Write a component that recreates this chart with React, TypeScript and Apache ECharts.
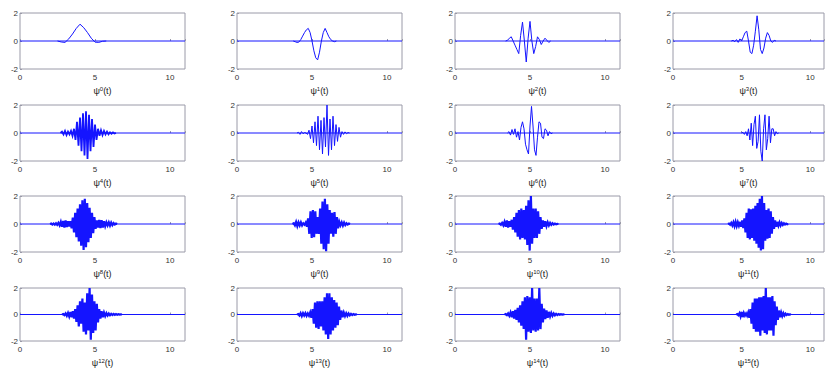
import React, { useEffect, useRef } from "react";
import * as echarts from "echarts";

// Axis ranges / ticks
const X_MIN = 0;
const X_MAX = 11;
const X_INTERVAL = 5;
const Y_MIN = -2;
const Y_MAX = 2;
const Y_INTERVAL = 2;

// Sample start time and spacing of each ψ^n curve (outside these the function is 0)
const STARTS = [2.5, 3.75, 3.375, 4.25, 2.7, 4.0, 3.5, 5.0, 2.0, 3.7, 2.9, 4.0, 2.8, 4.0, 3.3, 4.6];
const STEPS = [0.25, 0.125, 0.125, 0.125, 0.1, 0.1, 0.1, 0.1, 0.08, 0.08, 0.08, 0.08, 0.08, 0.08, 0.08, 0.08];
// Stroke width: fast oscillations are drawn as solid blobs in the original
const WIDTHS = [1, 1, 1, 1, 1.8, 1, 1, 1, 2.2, 2.2, 2.2, 2.2, 2.2, 2.2, 2.2, 2.2];

const PSI0 = [0, -0.07, -0.1, 0.15, 0.5, 0.9, 1.2, 0.95, 0.6, 0.2, -0.08, -0.1, -0.02, 0];
const PSI1 = [0, -0.05, -0.1, -0.08, 0.1, 0.35, 0.6, 0.8, 0.9, 0.6, 0.0, -0.7, -1.2, -1.35, -0.8, 0.0, 0.6, 0.9, 0.6, 0.3, 0.1, 0.0, -0.05, 0];
const PSI2 = [0, 0.05, 0.2, 0.3, 0.0, -0.3, -0.6, -0.9, 0.4, 1.35, 0.0, -1.5, 0.2, 1.4, 0.0, -0.9, -0.4, 0.3, 0.1, -0.25, 0.0, 0.2, 0.05, -0.1, 0];
const PSI3 = [0, 0.05, -0.05, 0.1, -0.1, 0.15, 0.0, 0.3, 0.6, 0.7, 0.0, -0.8, -0.9, -0.3, 0.7, 1.8, 0.8, -0.6, -0.9, -0.5, 0.2, 0.6, 0.4, 0.0, -0.1, 0.05, 0];
const PSI4 = [0, 0.1, -0.1, 0.15, -0.15, 0.1, -0.1, 0.15, -0.2, 0.3, -0.5, 0.8, -0.9, 1.1, -1.3, 1.4, -1.6, 1.55, -1.85, 1.3, -1.3, 1.0, -1.0, 0.6, -0.5, 0.3, -0.2, 0.2, -0.15, 0.15, -0.1, 0.1, -0.1, 0.05, -0.05, 0.05, -0.03, 0];
const PSI5 = [0, 0.05, -0.1, 0.1, -0.05, 0.03, 0, -0.1, 0.2, -0.4, 0.5, -0.7, 0.8, -0.9, 1.2, -1.2, 0.9, -1.5, 1.1, -1.0, 2.0, -1.6, 1.0, -1.2, 1.2, -0.9, 0.6, -0.6, 0.4, -0.3, 0.1, -0.1, 0.08, -0.05, 0.03, 0];
const PSI6 = [0, 0.1, -0.15, 0.25, -0.1, 0.3, -0.3, 0.1, -0.5, 0.4, 0.8, 0.3, -0.8, -1.2, -1.5, 0.5, 1.9, 0.5, -1.2, -1.6, -0.3, 0.8, 0.7, -0.3, -0.4, 0.3, 0.2, -0.2, 0.1, -0.05, 0];
const PSI7 = [0, 0.05, -0.1, 0.1, -0.2, 0.3, -0.5, 0.7, -0.9, 0.6, 1.2, -1.1, -0.6, 1.3, -1.3, -2.0, 0.3, 1.3, -1.2, -0.4, 1.2, -0.7, 0.3, 0.3, -0.2, 0.1, -0.05, 0];
const PSI8 = [
  0, 0.03, -0.04, 0.04, -0.05, 0.05, -0.06, 0.08, -0.1, 0.15,
  -0.2, 0.22, -0.25, 0.25, -0.22, 0.2, -0.18, 0.2, -0.3, 0.45,
  -0.6, 0.8, -0.95, 1.1, -1.25, 1.4, -1.55, 1.7, -1.85, 1.8,
  -1.65, 1.5, -1.3, 1.15, -1.0, 0.8, -0.65, 0.5, -0.35, 0.25,
  -0.25, 0.3, -0.3, 0.28, -0.25, 0.2, -0.15, 0.12, -0.1, 0.12,
  -0.12, 0.1, -0.08, 0.06, -0.04, 0.03, 0,
];
const PSI9 = [
  0, 0.05, -0.1, 0.15, -0.15, 0.12, -0.1, 0.12, -0.1, 0.05,
  -0.05, 0.1, -0.2, 0.4, -0.7, 0.9, -1.0, 1.0, -0.95, 0.9,
  -0.7, 0.5, -0.7, 1.1, -1.4, 1.6, -1.8, 1.8, -1.95, 1.4,
  -1.4, 1.0, -0.7, 0.8, -0.9, 0.85, -0.7, 0.5, -0.3, 0.15,
  -0.1, 0.12, -0.12, 0.1, -0.08, 0.05, -0.04, 0.03, 0,
];
const PSI10 = [
  0, 0.03, -0.05, 0.08, -0.1, 0.15, -0.2, 0.25, -0.25, 0.2,
  -0.2, 0.3, -0.4, 0.5, -0.6, 0.8, -0.9, 1.0, -1.1, 1.1,
  -1.0, 1.0, -1.1, 1.3, -1.5, 1.7, -1.9, 2.0, -1.4, 1.1,
  -1.0, 1.1, -1.0, 0.9, -0.7, 0.5, -0.35, 0.25, -0.2, 0.2,
  -0.15, 0.12, -0.1, 0.08, -0.06, 0.05, -0.04, 0.03, -0.02, 0.01,
  0,
];
const PSI11 = [
  0, 0.03, -0.05, 0.08, -0.1, 0.12, -0.15, 0.15, -0.15, 0.12,
  -0.12, 0.15, -0.2, 0.25, -0.3, 0.4, -0.6, 0.8, -1.0, 1.1,
  -1.1, 1.05, -1.0, 1.1, -1.2, 1.3, -1.4, 1.5, -1.7, 1.8,
  -1.9, 2.0, -1.8, 1.5, -1.2, 1.0, -1.05, 1.1, -1.0, 0.9,
  -0.7, 0.5, -0.35, 0.25, -0.2, 0.15, -0.12, 0.12, -0.1, 0.08,
  -0.06, 0.05, -0.04, 0.03, -0.02, 0,
];
const PSI12 = [
  0, 0.03, -0.05, 0.08, -0.1, 0.12, -0.15, 0.18, -0.2, 0.25,
  -0.3, 0.4, -0.55, 0.7, -0.9, 1.0, -0.7, 1.2, -1.3, 0.9,
  -1.5, 1.6, -1.2, 2.0, -1.9, 1.5, -1.4, 1.0, -1.2, 0.8,
  -0.6, 0.4, -0.3, 0.25, -0.2, 0.15, -0.12, 0.1, -0.08, 0.07,
  -0.06, 0.05, -0.04, 0.04, -0.03, 0.03, -0.02, 0.02, -0.01, 0.01,
  0,
];
const PSI13 = [
  0, 0.03, -0.08, 0.1, -0.12, 0.1, -0.08, 0.1, -0.1, 0.08,
  -0.1, 0.15, -0.25, 0.4, -0.7, 0.9, -1.0, 1.0, -1.1, 1.0,
  -0.9, 1.0, -1.2, 1.3, -1.5, 1.6, -1.85, 1.6, -1.5, 1.3,
  -1.2, 1.1, -1.0, 0.9, -0.8, 0.6, -0.4, 0.3, -0.2, 0.15,
  -0.12, 0.1, -0.1, 0.08, -0.06, 0.05, -0.04, 0.03, -0.02, 0.01,
  0,
];
const PSI14 = [
  0, 0.03, -0.05, 0.08, -0.1, 0.15, -0.2, 0.25, -0.3, 0.35,
  -0.4, 0.5, -0.6, 0.7, -0.85, 1.0, -1.1, 1.3, -1.9, 1.4,
  -1.3, 1.3, -1.4, 2.0, -1.2, 1.2, -1.3, 1.2, -1.2, 2.0,
  -1.1, 0.8, -0.6, 0.45, -0.35, 0.3, -0.25, 0.2, -0.15, 0.12,
  -0.1, 0.08, -0.06, 0.05, -0.04, 0.03, -0.02, 0.02, -0.01, 0.01,
  0,
];
const PSI15 = [
  0, 0.03, -0.05, 0.1, -0.15, 0.2, -0.2, 0.12, -0.08, 0.08,
  -0.1, 0.15, -0.25, 0.4, -0.7, 0.9, -1.1, 1.2, -1.3, 1.2,
  -1.3, 1.3, -1.6, 1.3, -1.2, 1.4, -1.4, 2.0, -1.5, 1.3,
  -1.2, 1.3, -1.2, 1.4, -1.6, 1.0, -0.8, 0.6, -0.4, 0.3,
  -0.2, 0.15, -0.12, 0.1, -0.08, 0.06, -0.04, 0.03, -0.02, 0.01,
  0,
];

const PSI = [PSI0, PSI1, PSI2, PSI3, PSI4, PSI5, PSI6, PSI7, PSI8, PSI9, PSI10, PSI11, PSI12, PSI13, PSI14, PSI15];

const FONT = "Liberation Sans";
const LINE = "#1414ff";

export default function App() {
  const ref = useRef<HTMLDivElement>(null);

  useEffect(() => {
    const chart = echarts.init(ref.current!, null, { renderer: "svg" });
    const colLeft = [20, 237, 455, 673];
    const rowTop = [13, 105, 196, 288];
    const W = 165;
    const H = 56;

    const grid: any[] = [];
    const xAxis: any[] = [];
    const yAxis: any[] = [];
    const series: any[] = [];

    PSI.forEach((vals, n) => {
      const r = Math.floor(n / 4);
      const c = n % 4;
      grid.push({
        left: colLeft[c],
        top: rowTop[r],
        width: W,
        height: H,
        show: true,
        borderColor: "#9a9aa8",
        borderWidth: 1,
        backgroundColor: "#ffffff",
      });
      xAxis.push({
        type: "value",
        gridIndex: n,
        min: X_MIN,
        max: X_MAX,
        interval: X_INTERVAL,
        axisLine: { show: false },
        axisTick: { show: true, inside: true, length: 2, lineStyle: { color: "#9a9aa8" } },
        splitLine: { show: false },
        axisLabel: {
          fontSize: 8,
          color: "#333",
          fontFamily: FONT,
          margin: 4,
          formatter: (v: number) => (v % X_INTERVAL === 0 ? String(v) : ""),
        },
        name: `ψ{s|${n}}(t)`,
        nameLocation: "middle",
        nameGap: 17,
        nameTextStyle: {
          fontSize: 9,
          color: "#222",
          fontFamily: FONT,
          rich: {
            s: { fontSize: 6, color: "#222", fontFamily: FONT, verticalAlign: "top" },
          },
        },
      });
      yAxis.push({
        type: "value",
        gridIndex: n,
        min: Y_MIN,
        max: Y_MAX,
        interval: Y_INTERVAL,
        axisLine: { show: false },
        axisTick: { show: true, inside: true, length: 2, lineStyle: { color: "#9a9aa8" } },
        splitLine: { show: false },
        axisLabel: { fontSize: 8, color: "#333", fontFamily: FONT, margin: 2 },
      });
      const start = STARTS[n];
      const step = STEPS[n];
      const pts: number[][] = [];
      vals.forEach((v, i) => pts.push([+(start + i * step).toFixed(4), v]));
      // zero baseline (function vanishes outside its support)
      series.push({
        type: "line",
        xAxisIndex: n,
        yAxisIndex: n,
        data: [[X_MIN, 0], [X_MAX, 0]],
        showSymbol: false,
        symbol: "none",
        lineStyle: { color: LINE, width: 1 },
        silent: true,
      });
      series.push({
        type: "line",
        xAxisIndex: n,
        yAxisIndex: n,
        data: pts,
        showSymbol: false,
        symbol: "none",
        lineStyle: { color: LINE, width: WIDTHS[n], join: "miter" },
        clip: true,
      });
    });

    chart.setOption({
      animation: false,
      backgroundColor: "#ffffff",
      grid,
      xAxis,
      yAxis,
      series,
    });

    return () => chart.dispose();
  }, []);

  return (
    <div
      ref={ref}
      style={{ position: "fixed", left: 0, top: 0, width: 827, height: 368, background: "#fff" }}
    />
  );
}
